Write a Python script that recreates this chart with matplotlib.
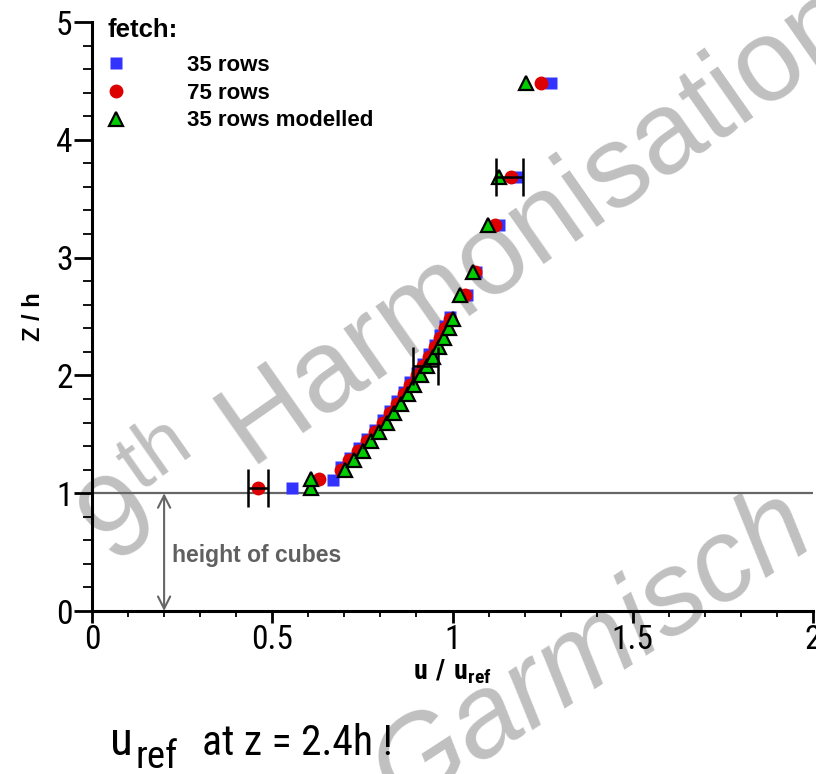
#!/usr/bin/env python3
"""Velocity profile above cube array: u/u_ref against z/h for two fetches."""

import matplotlib
matplotlib.use('Agg')
import matplotlib.pyplot as plt
from matplotlib.lines import Line2D

# Measured data, 35 rows fetch
z_35 = [1.04, 1.11, 1.22, 1.30, 1.38, 1.46, 1.54, 1.62, 1.70, 1.78, 1.86, 1.94,
        2.02, 2.10, 2.18, 2.26, 2.34, 2.42, 2.50, 2.68, 2.88, 3.28, 3.68, 4.48]
u_35 = [0.554, 0.669, 0.692, 0.716, 0.740, 0.763, 0.785, 0.806, 0.826, 0.846, 0.865, 0.883,
        0.901, 0.919, 0.936, 0.952, 0.966, 0.980, 0.993, 1.040, 1.065, 1.130, 1.178, 1.272]

# Measured data, 75 rows fetch
z_75 = [1.04, 1.12, 1.20, 1.28, 1.36, 1.44, 1.52, 1.60, 1.68, 1.76, 1.84, 1.92,
        2.00, 2.08, 2.16, 2.24, 2.32, 2.40, 2.48, 2.68, 2.88, 3.28, 3.68, 4.48]
u_75 = [0.461, 0.630, 0.690, 0.714, 0.738, 0.762, 0.784, 0.806, 0.826, 0.846, 0.865, 0.883,
        0.901, 0.919, 0.936, 0.951, 0.966, 0.979, 0.992, 1.035, 1.062, 1.118, 1.161, 1.245]

# Modelled, 35 rows
z_mod = [1.04, 1.12, 1.20, 1.28, 1.36, 1.44, 1.52, 1.60, 1.68, 1.76, 1.84, 1.92,
         2.00, 2.08, 2.16, 2.24, 2.32, 2.40, 2.48, 2.68, 2.88, 3.28, 3.68, 4.48]
u_mod = [0.607, 0.607, 0.702, 0.727, 0.751, 0.774, 0.796, 0.817, 0.838, 0.857, 0.876, 0.894,
         0.912, 0.930, 0.947, 0.962, 0.976, 0.989, 1.000, 1.021, 1.056, 1.099, 1.130, 1.203]

# Error bars (on 75 rows)
z_err = [1.04, 2.08, 3.68]
u_err = [0.461, 0.926, 1.158]
du_err = [0.028, 0.035, 0.038]

series_labels = ['35 rows', '75 rows', '35 rows modelled']
cube_height = 1.0
arrow_x = 0.2

NARROW = ['Roboto Condensed', 'Liberation Sans', 'DejaVu Sans']
plt.rcParams['font.family'] = ['Liberation Sans', 'DejaVu Sans']
plt.rcParams['mathtext.fontset'] = 'custom'
plt.rcParams['mathtext.rm'] = 'Roboto Condensed'
plt.rcParams['mathtext.bf'] = 'Roboto Condensed:bold'


def fig_xy(px, py):
    """Pixel position (from top-left) to figure fraction."""
    return px / 816, 1 - py / 774


fig = plt.figure(figsize=(8.16, 7.74), dpi=100)
ax = fig.add_axes([92 / 816, 163 / 774, 721 / 816, 589 / 774])
ax.set_facecolor('none')

# Watermarks, behind the axes
fig.text(*fig_xy(112, 568), '9$^{\\mathregular{th}}$ Harmonisation', fontsize=84,
         color='#c0c0c0', rotation=35, rotation_mode='anchor', ha='left', va='baseline',
         family='Liberation Sans', math_fontfamily='dejavusans', zorder=-1)
fig.text(*fig_xy(400, 812), 'Garmisch', fontsize=84, style='italic',
         color='#c0c0c0', rotation=33, rotation_mode='anchor', ha='left', va='baseline',
         family='Liberation Sans', zorder=-1)

# Cube height line and arrow
ax.axhline(cube_height, color='#666666', lw=1.6, zorder=2)
ax.annotate('', xy=(arrow_x, 0), xytext=(arrow_x, cube_height),
            arrowprops=dict(arrowstyle='<->', color='#666666', lw=1.5,
                            mutation_scale=22, shrinkA=0, shrinkB=0))
ax.text(0.222, 0.475, 'height of cubes', fontsize=16.5, fontweight='bold',
        color='#606060', va='center', ha='left')

# Data
ax.plot(u_35, z_35, 's', color='#3333ff', markersize=8, mec='none', zorder=3, clip_on=False)
ax.plot(u_75, z_75, 'o', color='#dd0000', markersize=10, mec='none', zorder=4, clip_on=False)
ax.plot(u_mod, z_mod, '^', color='#00cc00', markersize=10.5, mec='black', mew=1.6,
        zorder=5, clip_on=False)
ax.errorbar(u_err, z_err, xerr=du_err, fmt='none', ecolor='black', elinewidth=1.8,
            capsize=14, capthick=1.8, zorder=6)

# Axes styling
ax.set_xlim(0, 2)
ax.set_ylim(0, 5)
ax.spines['top'].set_visible(False)
ax.spines['right'].set_visible(False)
for side in ['left', 'bottom']:
    ax.spines[side].set_linewidth(2.2)
ax.set_xticks([0, 0.5, 1, 1.5, 2])
ax.set_xticklabels(['0', '0.5', '1', '1.5', '2'])
ax.set_yticks([0, 1, 2, 3, 4, 5])
ax.set_xticks([i / 10 for i in range(21)], minor=True)
ax.set_yticks([i / 5 for i in range(26)], minor=True)
ax.tick_params(axis='x', which='major', length=8.6, width=2, direction='out', pad=1)
ax.tick_params(axis='x', which='minor', length=4.3, width=1.3, direction='out')
ax.tick_params(axis='y', which='major', length=13, width=2, direction='out', pad=1)
ax.tick_params(axis='y', which='minor', length=6.5, width=1.3, direction='out')
for lab in ax.get_xticklabels() + ax.get_yticklabels():
    lab.set_family(NARROW)
    lab.set_fontsize(24)

ax.set_xlabel('$\\mathbf{u\\ /\\ u_{ref}}$', fontsize=20, labelpad=1)
ax.set_ylabel('Z / h', fontsize=17, fontweight='bold', labelpad=8)

# Legend: title as its own text, entries via legend
ax.text((108 - 92) / 721, 1 - (30 - 22) / 589, 'fetch:', transform=ax.transAxes,
        fontsize=18.5, fontweight='bold', ha='left', va='center')
handles = [
    Line2D([], [], ls='none', marker='s', color='#3333ff', mec='none', markersize=8),
    Line2D([], [], ls='none', marker='o', color='#dd0000', mec='none', markersize=10),
    Line2D([], [], ls='none', marker='^', color='#00cc00', mec='black', mew=1.6, markersize=10.5),
]
ax.legend(handles, series_labels, loc='upper left',
          bbox_to_anchor=((105 - 92) / 721, 1 - (55 - 22) / 589), frameon=False,
          handlelength=1.0, handletextpad=2.7, labelspacing=0.3,
          borderaxespad=0.0, borderpad=0.0,
          prop=dict(size=16, weight='bold'))

# Reference note
fig.text(*fig_xy(110, 755), 'u', fontsize=34, family=NARROW, ha='left', va='baseline')
fig.text(*fig_xy(136, 768), 'ref', fontsize=28, family=NARROW, ha='left', va='baseline')
fig.text(*fig_xy(202, 755), 'at z = 2.4h !', fontsize=30, family=NARROW,
         ha='left', va='baseline')

fig.savefig('out.png', dpi=100)
